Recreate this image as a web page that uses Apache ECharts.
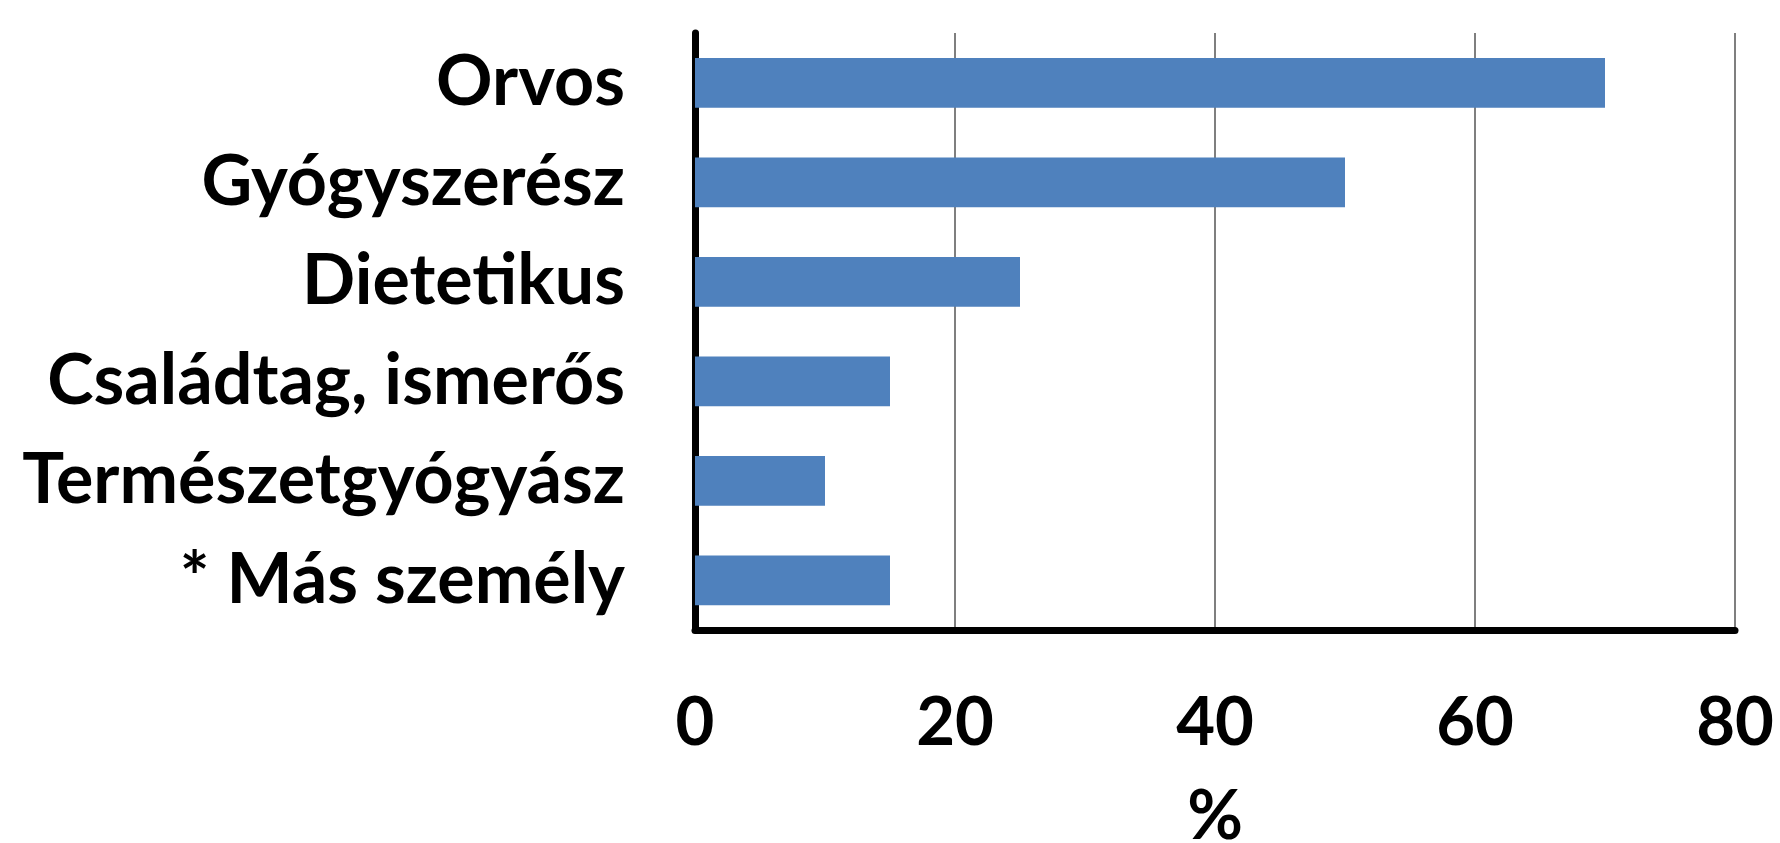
<!DOCTYPE html>
<html><head><meta charset="utf-8">
<script src="https://cdn.jsdelivr.net/npm/echarts@6/dist/echarts.min.js"></script>
<style>html,body{margin:0;padding:0;background:#fff}#c{width:1780px;height:843px}</style>
</head><body><div id="c"></div>
<script>
const categories = ["Orvos", "Gyógyszerész", "Dietetikus", "Családtag, ismerős", "Természetgyógyász", "* Más személy"];
const values = [70, 50, 25, 15, 10, 15];
const xTicks = [0, 20, 40, 60, 80];
const axisName = "%";

const FONT = "Lato";
const chart = echarts.init(document.getElementById('c'));
chart.setOption({
  backgroundColor: '#ffffff',
  animation: false,
  grid: { left: 695, right: 45, top: 33, bottom: 213, containLabel: false, outerBoundsMode: 'none' },
  xAxis: {
    type: 'value', min: xTicks[0], max: xTicks[xTicks.length - 1], interval: 20,
    name: axisName, nameLocation: 'middle', nameGap: 153,
    nameTextStyle: { fontFamily: FONT, fontWeight: 'bold', fontSize: 68, color: '#000' },
    axisLine: { show: true, onZero: false, lineStyle: { color: '#000', width: 7 } },
    axisTick: { show: false },
    axisLabel: { fontFamily: FONT, fontWeight: 'bold', fontSize: 67, color: '#000', margin: 60 },
    splitLine: { show: true, lineStyle: { color: '#7f7f7f', width: 2 } }
  },
  yAxis: {
    type: 'category', data: categories, inverse: true,
    axisLine: { show: true, lineStyle: { color: '#000', width: 7 } },
    axisTick: { show: false },
    axisLabel: { fontFamily: FONT, fontWeight: 'bold', fontSize: 70, color: '#000', margin: 70 },
    splitLine: { show: false }
  },
  series: [{
    type: 'bar', data: values, barWidth: '50%',
    itemStyle: { color: '#4F81BD' }
  }]
});
</script></body></html>
